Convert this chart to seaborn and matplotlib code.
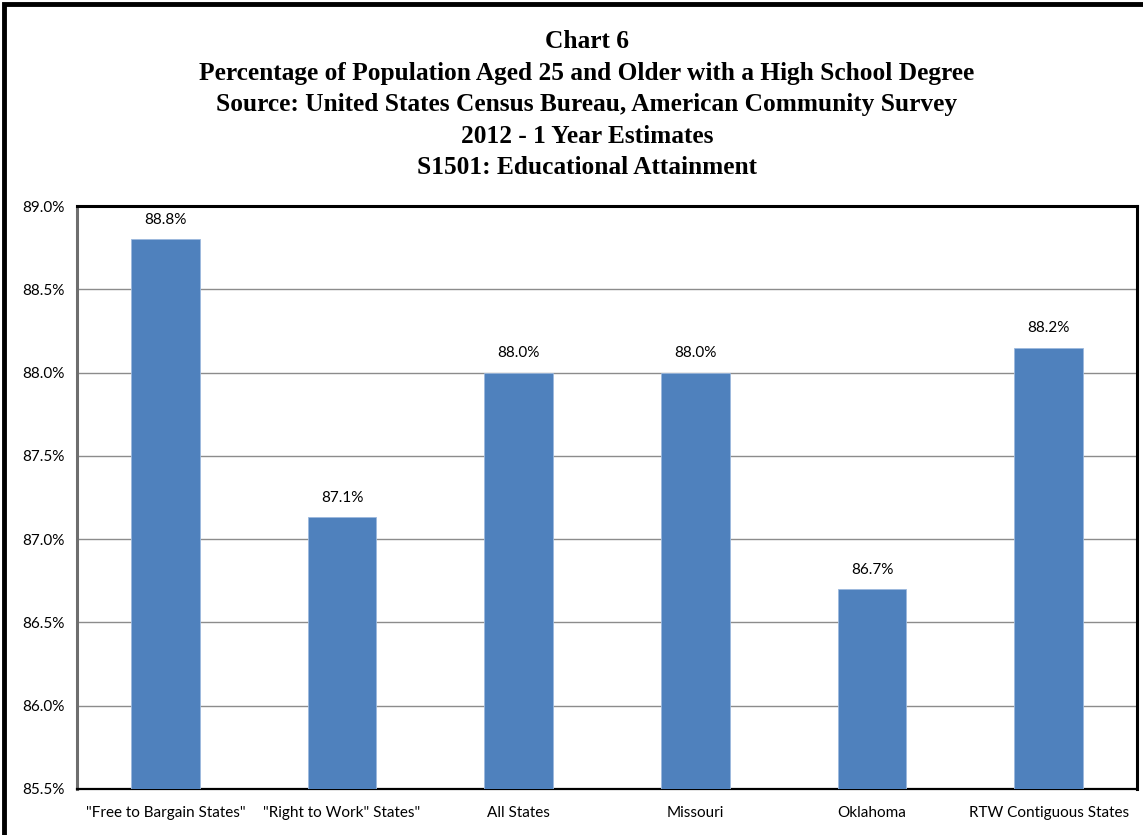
import matplotlib
matplotlib.use("Agg")
import matplotlib.pyplot as plt
import matplotlib.patches as mpatches
from matplotlib.ticker import FuncFormatter, MultipleLocator
import seaborn as sns
import pandas as pd

categories = ['"Free to Bargain States"', '"Right to Work" States"', "All States",
              "Missouri", "Oklahoma", "RTW Contiguous States"]
values = [88.8, 87.13, 88.0, 88.0, 86.7, 88.15]

title_lines = [
    "Chart 6",
    "Percentage of Population Aged 25 and Older with a High School Degree",
    "Source: United States Census Bureau, American Community Survey",
    "2012 - 1 Year Estimates",
    "S1501: Educational Attainment",
]

BAR_COLOR = "#4F81BD"
LABEL_FONT = ["Lato", "DejaVu Sans"]
TITLE_FONT = ["Liberation Serif", "DejaVu Serif"]

sns.set_style("white")
plt.rcParams.update({"text.color": "black", "xtick.color": "black",
                     "ytick.color": "black", "axes.labelcolor": "black"})

df = pd.DataFrame({"category": categories, "value": values})

fig = plt.figure(figsize=(11.43, 8.35), dpi=100)
ax = fig.add_axes([77 / 1143, 1 - 789 / 835, (1137 - 77) / 1143, (789 - 206) / 835])

sns.barplot(data=df, x="category", y="value", color=BAR_COLOR, width=0.39,
            saturation=1, edgecolor="#9cb9de", linewidth=0.6, ax=ax, zorder=3)

ax.set_ylim(85.5, 89.0)
ax.set_xlim(-0.5, len(categories) - 0.5)
ax.yaxis.set_major_locator(MultipleLocator(0.5))
ax.yaxis.set_major_formatter(FuncFormatter(lambda v, p: f"{v:.1f}%"))
ax.grid(axis="y", color="#8c8c8c", linewidth=1.0, zorder=0)
ax.set_axisbelow(True)
ax.set_xlabel("")
ax.set_ylabel("")

# category boundary ticks on the x axis
ax.set_xticks([i - 0.5 for i in range(len(categories) + 1)], minor=False)
ax.set_xticklabels([])
ax.set_xticks(range(len(categories)), minor=True)
ax.set_xticklabels(categories, minor=True)
ax.tick_params(axis="x", which="major", length=5, width=1, color="#8c8c8c", direction="out")
ax.tick_params(axis="x", which="minor", length=0, pad=12, labelsize=11, labelcolor="black")
ax.tick_params(axis="y", length=5, width=1, color="#8c8c8c", direction="out", pad=4,
               labelsize=11, labelcolor="black")
for lab in ax.get_xticklabels(minor=True) + ax.get_yticklabels():
    lab.set_fontfamily(LABEL_FONT)

for side in ["top", "right"]:
    ax.spines[side].set_visible(True)
    ax.spines[side].set_color("black")
    ax.spines[side].set_linewidth(2.2)
ax.spines["left"].set_color("#6e6e6e")
ax.spines["left"].set_linewidth(2.2)
ax.spines["bottom"].set_color("black")
ax.spines["bottom"].set_linewidth(1.6)

for i, v in enumerate(values):
    ax.annotate(f"{v:.1f}%", (i, v), xytext=(0, 9), textcoords="offset points",
                ha="center", va="bottom", fontsize=11, family=LABEL_FONT, color="black")

# titles
y0 = 42
for k, line in enumerate(title_lines):
    fig.text(587 / 1143, 1 - (y0 + k * 31.5) / 835, line, ha="center", va="center",
             fontsize=18.3, fontweight="bold", family=TITLE_FONT, color="black")

# outer chart frame
frame = mpatches.Rectangle((4 / 1143, -0.05), 1.1, 1 - 4 / 835 + 0.05,
                           transform=fig.transFigure, fill=False,
                           edgecolor="black", linewidth=3.5, clip_on=False)
fig.patches.append(frame)

fig.savefig("out.png", dpi=100)
